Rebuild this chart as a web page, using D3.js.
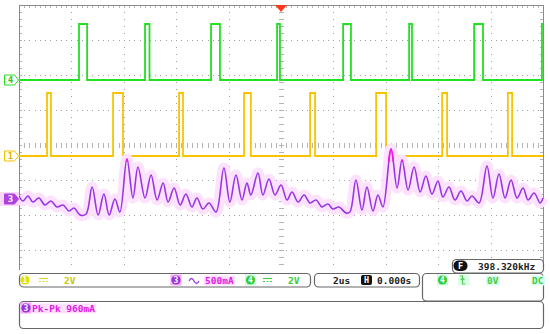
<!DOCTYPE html>
<html>
<head>
<meta charset="utf-8">
<script src="https://cdn.jsdelivr.net/npm/d3@7"></script>
<style>
  body { margin: 0; background: #fff; }
  svg { display: block; }
  text { font-family: "DejaVu Sans Mono", monospace; font-weight: bold; font-size: 9.5px; }
</style>
</head>
<body>
<div id="chart"></div>
<script>
// time base: 2us/div, trigger at centre (us)
var timeSpan = [-10, 10];

// channel 4 (green) pulse edges, us
var ch4Rise = [-7.71, -5.19, -2.67, -0.15, 2.37, 4.89, 7.37, 9.96];
var ch4Fall = [-7.40, -5.02, -2.33, -0.04, 2.67, 5.00, 7.71, 10];
var ch4High = 3.2; // V

// channel 1 (yellow) pulse edges, us
var ch1Rise = [-8.93, -6.41, -3.89, -1.41, 1.11, 3.63, 6.15, 8.66];
var ch1Fall = [-8.78, -6.03, -3.74, -1.15, 1.30, 4.01, 6.34, 8.82];
var ch1High = 3.6; // V

// channel 3 (purple) current, us / mA
var ch3Time = [-10.00, -9.85, -9.66, -9.47, -9.24, -9.01, -8.78, -8.55, -8.32, -8.09, -7.90, -7.67, -7.44,
  -7.21, -6.98, -6.76, -6.56, -6.34, -6.15, -5.88, -5.65, -5.46, -5.19, -4.96, -4.73, -4.50, -4.31,
  -4.08, -3.85, -3.63, -3.40, -3.21, -2.98, -2.75, -2.48, -2.18, -1.95, -1.72, -1.49, -1.30, -1.15,
  -0.88, -0.69, -0.46, -0.23, 0.00, 0.23, 0.42, 0.65, 0.88, 1.11, 1.34, 1.56, 1.79, 1.98, 2.21, 2.48,
  2.63, 2.86, 3.09, 3.28, 3.51, 3.70, 3.89, 4.20, 4.43, 4.62, 4.85, 5.08, 5.31, 5.53, 5.76, 5.99, 6.18,
  6.41, 6.64, 6.87, 7.10, 7.29, 7.56, 7.86, 8.09, 8.32, 8.55, 8.78, 9.01, 9.24, 9.43, 9.66, 9.89, 10.00];
var ch3Current = [43, -29, 43, -43, 14, -86, -29, -114, -86, -171, -129, -229, -214,
  171, -229, 71, -229, 0, -186, 571, 14, 457, 14, 343, -14, 229, -43,
  157, -86, 71, -114, 14, -143, -57, -186, 443, -43, 343, -14, 229, 57,
  371, 57, 286, 57, 200, -14, 100, -43, 57, -57, -14, -114, -71, -143, -114, -200,
  -186, 271, -157, 171, -171, 57, -114, 714, 157, 557, 129, 457, 100, 329, 71, 257, 29,
  171, -14, 114, -29, 43, -57, 471, 14, 357, 14, 271, 14, 157, -14, 86, -57, 14];

var W = 550, H = 334;
var svg = d3.select("#chart").append("svg")
    .attr("width", W)
    .attr("height", H);

// screen: 10 x 8 divisions
var x = d3.scaleLinear().domain(timeSpan).range([19, 543]);
var div = d3.scaleLinear().domain([-4, 4]).range([285, 5]);
var gridBottom = 270;

function chY(offsetDiv, perDiv) {
  return function(v) { return div(offsetDiv + v / perDiv); };
}
var y4 = chY(1.857, 2), y1 = chY(-0.314, 2), y3 = chY(-1.543, 500);

// grid
var grid = svg.append("g");
var xDiv = d3.range(0, 11).map(function(i) { return timeSpan[0] + 2 * i; });
var yDiv = d3.range(-4, 5);
var yMinor = d3.range(-20, 21).map(function(i) { return i / 5; }).filter(function(d) { return div(d) <= gridBottom; });
var xMinor = d3.range(-50, 51).map(function(i) { return i / 5; });
var dotCol = "#a0a0a0", tickCol = "#b4b4b4";

xDiv.forEach(function(t) {
  yMinor.forEach(function(d) {
    grid.append("rect").attr("x", Math.round(x(t))).attr("y", Math.round(div(d)))
      .attr("width", 1).attr("height", 1).attr("fill", dotCol);
  });
});
yDiv.filter(function(d) { return div(d) <= gridBottom; }).forEach(function(d) {
  xMinor.forEach(function(t) {
    grid.append("rect").attr("x", Math.round(x(t))).attr("y", Math.round(div(d)))
      .attr("width", 1).attr("height", 1).attr("fill", dotCol);
  });
});
// centre cross ticks and border ticks
yMinor.forEach(function(d) {
  var yy = Math.round(div(d)) + 0.5;
  grid.append("line").attr("x1", x(0) - 2).attr("x2", x(0) + 3).attr("y1", yy).attr("y2", yy).attr("stroke", tickCol);
  grid.append("line").attr("x1", x(-10)).attr("x2", x(-10) + 3).attr("y1", yy).attr("y2", yy).attr("stroke", tickCol);
  grid.append("line").attr("x1", x(10) - 3).attr("x2", x(10)).attr("y1", yy).attr("y2", yy).attr("stroke", tickCol);
});
xMinor.forEach(function(t) {
  var xx = Math.round(x(t)) + 0.5;
  grid.append("line").attr("y1", div(0) - 2).attr("y2", div(0) + 3).attr("x1", xx).attr("x2", xx).attr("stroke", tickCol);
  grid.append("line").attr("y1", div(4)).attr("y2", div(4) + 3).attr("x1", xx).attr("x2", xx).attr("stroke", tickCol);
});
// border
grid.append("path")
  .attr("d", "M" + (x(-10) + 0.5) + "," + gridBottom + "V" + (div(4) + 0.5) + "H" + (x(10) + 0.5) + "V" + gridBottom)
  .attr("fill", "none").attr("stroke", "#8a8a8a").attr("stroke-width", 1);

// trigger position marker
svg.append("path")
  .attr("d", "M" + (x(0) - 6) + "," + div(4) + "L" + (x(0) + 6) + "," + div(4) + "L" + x(0) + "," + (div(4) + 7) + "Z")
  .attr("fill", "#ff3a1a");

// pulse trains
function pulsePoints(rise, fall, high) {
  var pts = [[timeSpan[0], 0]];
  rise.forEach(function(r, i) {
    pts.push([r, 0], [r, high], [fall[i], high]);
    if (fall[i] < timeSpan[1]) pts.push([fall[i], 0]);
  });
  if (fall[fall.length - 1] < timeSpan[1]) pts.push([timeSpan[1], 0]);
  return pts;
}

svg.append("path")
  .datum(pulsePoints(ch4Rise, ch4Fall, ch4High))
  .attr("fill", "none").attr("stroke", "#22e022").attr("stroke-width", 1.8)
  .attr("d", d3.line().x(function(d) { return x(d[0]); }).y(function(d) { return y4(d[1]); }));

svg.append("path")
  .datum(pulsePoints(ch1Rise, ch1Fall, ch1High))
  .attr("fill", "none").attr("stroke", "#f8c400").attr("stroke-width", 1.8)
  .attr("d", d3.line().x(function(d) { return x(d[0]); }).y(function(d) { return y1(d[1]); }));

// current trace with persistence halo
var ch3Data = ch3Time.map(function(t, i) { return [t, ch3Current[i]]; });
var ch3Line = d3.line().curve(d3.curveCatmullRom.alpha(0.5))
  .x(function(d) { return x(d[0]); }).y(function(d) { return y3(d[1]); });

svg.append("path").datum(ch3Data)
  .attr("fill", "none").attr("stroke", "#fce2fc").attr("stroke-width", 11)
  .attr("stroke-linejoin", "round").attr("d", ch3Line);
svg.append("path").datum(ch3Data)
  .attr("fill", "none").attr("stroke", "#9a34e6").attr("stroke-width", 1.6)
  .attr("d", ch3Line);

svg.append("clipPath").attr("id", "peakClip")
  .append("rect").attr("x", 0).attr("y", 0).attr("width", W).attr("height", y3(530));
svg.append("path").datum(ch3Data)
  .attr("clip-path", "url(#peakClip)")
  .attr("fill", "none").attr("stroke", "#ff10e8").attr("stroke-width", 1.8)
  .attr("d", ch3Line);

// channel ground markers
function marker(yPos, label, stroke, fill, textFill) {
  var g = svg.append("g");
  g.append("path")
    .attr("d", "M4.5," + (yPos - 5) + "H14.5L18.5," + yPos + "L14.5," + (yPos + 5) + "H4.5Z")
    .attr("fill", fill).attr("stroke", stroke).attr("stroke-width", 1);
  g.append("text").attr("x", 10.5).attr("y", yPos + 3.3).attr("text-anchor", "middle")
    .attr("fill", textFill).style("font-size", "9px").text(label);
}
marker(y4(0), "4", "#22dd22", "#fff", "#22cc22");
marker(y1(0), "1", "#f0c000", "#fff", "#e0b000");
svg.append("rect").attr("x", 0).attr("y", y3(0) - 7).attr("width", 19).attr("height", 14).attr("fill", "#fbd9fb");
marker(y3(0), "3", "#b040e0", "#b040e0", "#fff");

// status boxes
function box(x0, y0, w, h) {
  svg.append("rect").attr("x", x0 + 0.5).attr("y", y0 + 0.5).attr("width", w).attr("height", h)
    .attr("rx", 4).attr("fill", "#fff").attr("stroke", "#666").attr("stroke-width", 1.2);
}
function label(x0, yb, txt, fill, bg) {
  var g = svg.append("g");
  var t = g.append("text").attr("x", x0).attr("y", yb).attr("fill", fill).text(txt);
  if (bg) {
    var bb = t.node().getBBox();
    g.insert("rect", ":first-child").attr("x", bb.x - 1).attr("y", bb.y + 1).attr("width", bb.width + 2)
      .attr("height", bb.height - 1).attr("fill", bg);
  }
  return t;
}
function chIcon(cx, cy, txt, fill, bg) {
  if (bg) svg.append("rect").attr("x", cx - 5.5).attr("y", cy - 5.5).attr("width", 11).attr("height", 11).attr("fill", bg);
  svg.append("circle").attr("cx", cx).attr("cy", cy).attr("r", 4.6).attr("fill", fill);
  svg.append("text").attr("x", cx).attr("y", cy + 3).attr("text-anchor", "middle")
    .attr("fill", "#fff").style("font-size", "8px").text(txt);
}
function dcSym(x0, cy, col) {
  svg.append("line").attr("x1", x0).attr("x2", x0 + 9).attr("y1", cy - 1.5).attr("y2", cy - 1.5)
    .attr("stroke", col).attr("stroke-width", 1.2);
  svg.append("line").attr("x1", x0).attr("x2", x0 + 9).attr("y1", cy + 1.5).attr("y2", cy + 1.5)
    .attr("stroke", col).attr("stroke-width", 1.2).attr("stroke-dasharray", "2,1.5");
}

box(19, 273, 291, 13.5);
box(314, 273, 105, 13.5);
box(422, 273, 121, 27.5);
box(452, 259, 91, 13.5);
box(19, 301, 524, 27);

var rowY = 280, rowB = 283.5;
chIcon(25, rowY, "1", "#e2e200");
dcSym(39, rowY, "#d6d63a");
label(64, rowB, "2V", "#c8c800");

chIcon(176, rowY, "3", "#9b30e0", "#f7a8f7");
svg.append("path").attr("d", "M189,281 q2.5,-5 5,0 t5,0").attr("fill", "none")
  .attr("stroke", "#9040e0").attr("stroke-width", 1.3);
label(205, rowB, "500mA", "#e020e0", "#ffe0ff");

chIcon(250.5, rowY, "4", "#33cc33", "#c8ffea");
dcSym(263, rowY, "#44cc44");
label(288, rowB, "2V", "#33cc33");

label(333, rowB, "2us", "#222");
svg.append("rect").attr("x", 361).attr("y", 275).attr("width", 11).attr("height", 10).attr("rx", 2).attr("fill", "#111");
svg.append("text").attr("x", 366.5).attr("y", 283.3).attr("text-anchor", "middle").attr("fill", "#fff")
  .style("font-size", "8.5px").text("H");
label(377, rowB, "0.000s", "#222");

chIcon(442.5, rowY, "4", "#33cc33", "#c8ffea");
svg.append("rect").attr("x", 458).attr("y", 274.5).attr("width", 12).attr("height", 11).attr("fill", "#dcffe8");
svg.append("path").attr("d", "M460,276 h2.5 v8 h3 M460.5,280 l2,-2 l2,2").attr("fill", "none")
  .attr("stroke", "#55cc55").attr("stroke-width", 1.1);
label(487, rowB, "0V", "#44cc44", "#d8fff0");
label(532, rowB, "DC", "#44cc44", "#d8fff0");

svg.append("rect").attr("x", 453.5).attr("y", 260.5).attr("width", 14).attr("height", 10.5).attr("rx", 5).attr("fill", "#111");
svg.append("text").attr("x", 460.5).attr("y", 269).attr("text-anchor", "middle").attr("fill", "#fff")
  .style("font-size", "8.5px").text("F");
label(478, 269.5, "398.320kHz", "#222");

chIcon(26, 308, "3", "#9b30e0", "#f7a8f7");
label(32, 311.5, "Pk-Pk 960mA", "#e020e0", "#ffe0ff");
</script>
</body>
</html>
